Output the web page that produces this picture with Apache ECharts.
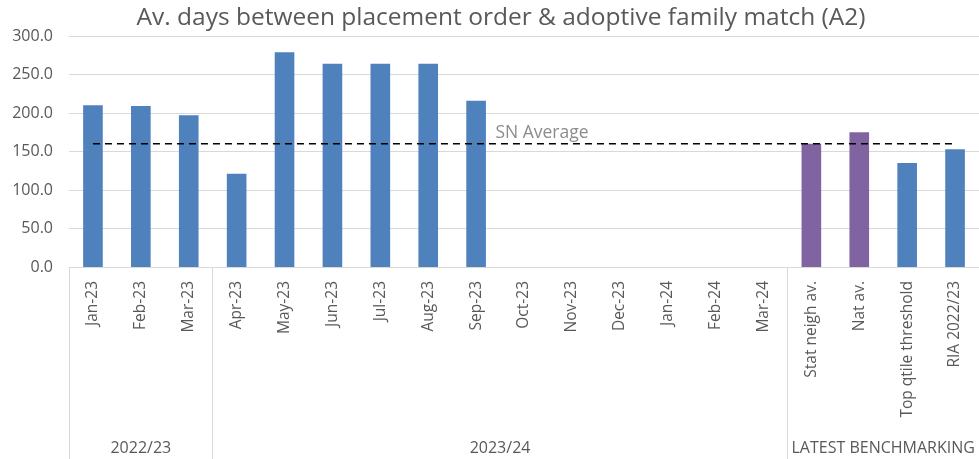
<!DOCTYPE html>
<html>
<head>
<meta charset="utf-8">
<script src="https://cdn.jsdelivr.net/npm/echarts@6/dist/echarts.min.js"></script>
<style>
  html, body { margin: 0; padding: 0; background: #fff; }
  #chart { width: 979px; height: 459px; }
</style>
</head>
<body>
<div id="chart"></div>
<script>
const categories = ['Jan-23', 'Feb-23', 'Mar-23', 'Apr-23', 'May-23', 'Jun-23', 'Jul-23', 'Aug-23', 'Sep-23',
  'Oct-23', 'Nov-23', 'Dec-23', 'Jan-24', 'Feb-24', 'Mar-24',
  'Stat neigh av.', 'Nat av.', 'Top qtile threshold', 'RIA 2022/23'];
const values = [210, 209, 197, 121, 279, 264, 264, 264, 216,
  null, null, null, null, null, null,
  160, 175, 135, 153];
// benchmark comparators drawn in purple
const purpleIdx = [15, 16];
const snAverage = categories.map(() => 160);
const groupNames = ['2022/23', '2023/24', 'LATEST BENCHMARKING'];
const groupBounds = [0, 3, 15, 19];
const yTicks = [0, 50, 100, 150, 200, 250, 300];

const FONT = 'Open Sans';
const GREY = '#595959';
const LINE = '#d9d9d9';

const groupCenters = groupNames.map((_, i) => (groupBounds[i] + groupBounds[i + 1]) / 2);

const chart = echarts.init(document.getElementById('chart'), null, { renderer: 'canvas' });

chart.setOption({
  animation: false,
  title: {
    text: 'Av. days between placement order & adoptive family match (A2)',
    left: 496,
    textAlign: 'center',
    top: 1,
    textStyle: { fontFamily: FONT, fontSize: 24.5, fontWeight: 'normal', color: GREY }
  },
  grid: { left: 69, right: 0, top: 36, bottom: 192 },
  xAxis: [
    {
      type: 'category',
      data: categories,
      axisLine: { lineStyle: { color: LINE, width: 1 } },
      axisTick: { show: false },
      axisLabel: {
        interval: 0,
        rotate: 90,
        margin: 14,
        fontFamily: FONT,
        fontSize: 15.5,
        color: GREY
      }
    },
    {
      type: 'value',
      position: 'bottom',
      min: 0,
      max: 19,
      axisLine: { show: false },
      splitLine: { show: false },
      axisTick: {
        show: true,
        customValues: groupBounds.slice(0, 3),
        length: 193,
        lineStyle: { color: LINE, width: 1 }
      },
      axisLabel: {
        show: true,
        customValues: groupCenters,
        margin: 173,
        fontFamily: FONT,
        fontSize: 16,
        color: GREY,
        formatter: v => groupNames[groupCenters.indexOf(v)]
      }
    }
  ],
  yAxis: {
    type: 'value',
    min: 0,
    max: yTicks[yTicks.length - 1],
    interval: 50,
    axisLine: { show: false },
    axisTick: { show: false },
    splitLine: { lineStyle: { color: LINE, width: 1 } },
    axisLabel: {
      margin: 16,
      fontFamily: FONT,
      fontSize: 16,
      color: GREY,
      formatter: v => v.toFixed(1)
    }
  },
  series: [
    {
      type: 'bar',
      xAxisIndex: 0,
      barCategoryGap: '59%',
      data: values.map((v, i) => ({
        value: v,
        itemStyle: { color: purpleIdx.includes(i) ? '#8064A2' : '#4F81BD' }
      }))
    },
    {
      type: 'line',
      xAxisIndex: 0,
      data: snAverage.map((v, i) => i === 9 ? {
        value: v,
        label: {
          show: true,
          position: 'top',
          offset: [18, 3],
          formatter: 'SN Average',
          fontFamily: FONT,
          fontSize: 17.5,
          color: '#8c8c8c'
        }
      } : v),
      symbol: 'circle',
      symbolSize: 0,
      showSymbol: true,
      lineStyle: { color: '#000', width: 1.6, type: [7, 5] },
      z: 5
    }
  ]
});
</script>
</body>
</html>
